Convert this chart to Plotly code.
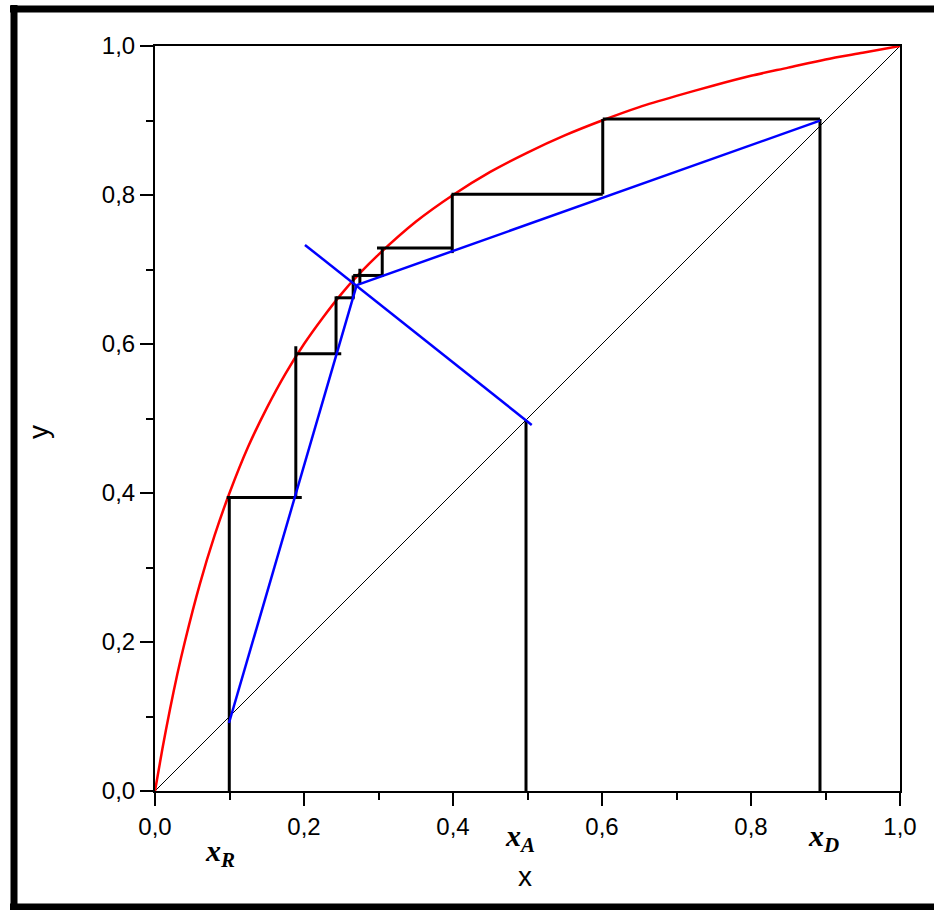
import plotly.graph_objects as go

# ---- data ----
# equilibrium curve
eq_x = [0, 0.01, 0.02, 0.03, 0.04, 0.06, 0.08, 0.10, 0.125, 0.15, 0.175, 0.20, 0.225,
        0.25, 0.275, 0.30, 0.35, 0.40, 0.45, 0.50, 0.55, 0.60, 0.65, 0.70, 0.75,
        0.80, 0.85, 0.90, 0.95, 1.0]
eq_y = [0, 0.057, 0.109, 0.157, 0.200, 0.277, 0.343, 0.400, 0.462, 0.514, 0.560, 0.600,
        0.635, 0.667, 0.695, 0.720, 0.764, 0.800, 0.831, 0.857, 0.880, 0.900, 0.918,
        0.933, 0.947, 0.960, 0.971, 0.982, 0.991, 1.0]

# diagonal y = x
diag_x = [0, 1]
diag_y = [0, 1]

# operating lines
strip_x = [0.0993, 0.2707]
strip_y = [0.0913, 0.679]
rect_x = [0.2707, 0.8926]
rect_y = [0.679, 0.8998]
q_x = [0.2013, 0.5057]
q_y = [0.733, 0.4913]

# staircase segments (x0, y0, x1, y1)
steps = [
    (0.601, 0.902, 0.8926, 0.902),
    (0.601, 0.902, 0.601, 0.801),
    (0.398, 0.801, 0.601, 0.801),
    (0.399, 0.801, 0.399, 0.722),
    (0.298, 0.729, 0.399, 0.729),
    (0.305, 0.729, 0.305, 0.690),
    (0.266, 0.692, 0.306, 0.692),
    (0.275, 0.701, 0.275, 0.681),
    (0.266, 0.692, 0.266, 0.662),
    (0.243, 0.662, 0.268, 0.662),
    (0.243, 0.664, 0.243, 0.587),
    (0.189, 0.587, 0.250, 0.587),
    (0.189, 0.597, 0.189, 0.395),
    (0.0963, 0.394, 0.197, 0.394),
]

# composition drop lines (x, y_top)
drops = [(0.0997, 0.394), (0.498, 0.4977), (0.8926, 0.902)]
drop_labels = ["R", "A", "D"]

x_ticks = [0, 0.2, 0.4, 0.6, 0.8, 1.0]
x_ticktext = ["0,0", "0,2", "0,4", "0,6", "0,8", "1,0"]
y_ticks = [0, 0.2, 0.4, 0.6, 0.8, 1.0]
y_ticktext = ["0,0", "0,2", "0,4", "0,6", "0,8", "1,0"]
minor_ticks = [0.1, 0.3, 0.5, 0.7, 0.9]

# ---- figure ----
fig = go.Figure()

fig.add_trace(go.Scatter(x=diag_x, y=diag_y, mode="lines",
                         line=dict(color="black", width=1), hoverinfo="skip"))
fig.add_trace(go.Scatter(x=eq_x, y=eq_y, mode="lines",
                         line=dict(color="#ff0000", width=2.5, shape="spline",
                                   smoothing=0.8), hoverinfo="skip"))

sx, sy = [], []
for x0, y0, x1, y1 in steps:
    sx += [x0, x1, None]
    sy += [y0, y1, None]
for xd, yd in drops:
    sx += [xd, xd, None]
    sy += [yd, 0, None]
fig.add_trace(go.Scatter(x=sx, y=sy, mode="lines",
                         line=dict(color="black", width=3), hoverinfo="skip"))

for lx, ly in [(strip_x, strip_y), (rect_x, rect_y), (q_x, q_y)]:
    fig.add_trace(go.Scatter(x=lx, y=ly, mode="lines",
                             line=dict(color="#0000ff", width=2.5), hoverinfo="skip"))

tick_font = dict(family="Liberation Sans, Arial, sans-serif", size=24, color="black")

fig.update_xaxes(range=[0, 1], showgrid=False, zeroline=False,
                 showline=True, linecolor="black", linewidth=2, mirror=True,
                 ticks="outside", ticklen=13, tickwidth=2, tickcolor="black",
                 tickvals=x_ticks, ticktext=x_ticktext, tickfont=tick_font,
                 minor=dict(tickvals=minor_ticks, ticks="outside", ticklen=7,
                            tickwidth=2, tickcolor="black"))
fig.update_yaxes(range=[0, 1], showgrid=False, zeroline=False,
                 showline=True, linecolor="black", linewidth=2, mirror=True,
                 ticks="outside", ticklen=13, tickwidth=2, tickcolor="black",
                 tickvals=y_ticks, ticktext=y_ticktext, tickfont=tick_font,
                 minor=dict(tickvals=minor_ticks, ticks="outside", ticklen=7,
                            tickwidth=2, tickcolor="black"))

annos = []
label_pos = [(0.087, -0.083), (0.49, -0.063), (0.897, -0.063)]
for (ax, ay), lab in zip(label_pos, drop_labels):
    annos.append(dict(x=ax, y=ay, xref="x", yref="paper", showarrow=False,
                      xanchor="center", yanchor="middle",
                      text="<b><i>x</i></b><sub><b><i>%s</i></b></sub>" % lab,
                      font=dict(family="Liberation Serif, Times New Roman, serif",
                                size=30, color="black")))
annos.append(dict(x=0.4966, y=-0.1154, xref="paper", yref="paper", showarrow=False,
                  xanchor="center", yanchor="middle",
                  text="x", font=dict(family="Liberation Sans, Arial, sans-serif",
                                      size=28, color="black")))
annos.append(dict(x=-0.1557, y=0.482, xref="paper", yref="paper", showarrow=False,
                  xanchor="center", yanchor="middle",
                  text="y", textangle=-90,
                  font=dict(family="Liberation Sans, Arial, sans-serif",
                            size=28, color="black")))


def px_x(p):
    return (p - 155) / 745


def px_y(p):
    return (791 - p) / 745


frame = dict(color="black", width=7)
fig.update_layout(
    width=934, height=910,
    margin=dict(l=155, r=34, t=46, b=119),
    plot_bgcolor="white", paper_bgcolor="white",
    showlegend=False,
    annotations=annos,
    shapes=[
        dict(type="line", xref="paper", yref="paper", layer="below",
             x0=px_x(14), x1=px_x(14), y0=px_y(5), y1=px_y(912), line=frame),
        dict(type="line", xref="paper", yref="paper", layer="below",
             x0=px_x(10), x1=px_x(940), y0=px_y(9), y1=px_y(9), line=frame),
        dict(type="line", xref="paper", yref="paper", layer="below",
             x0=px_x(10), x1=px_x(940), y0=px_y(907), y1=px_y(907), line=frame),
    ],
)

fig.write_html(
    "out.html",
    config={"displayModeBar": False},
    post_script="document.documentElement.style.margin='0';"
                "document.body.style.margin='0';"
                "document.body.style.overflow='hidden';",
)
